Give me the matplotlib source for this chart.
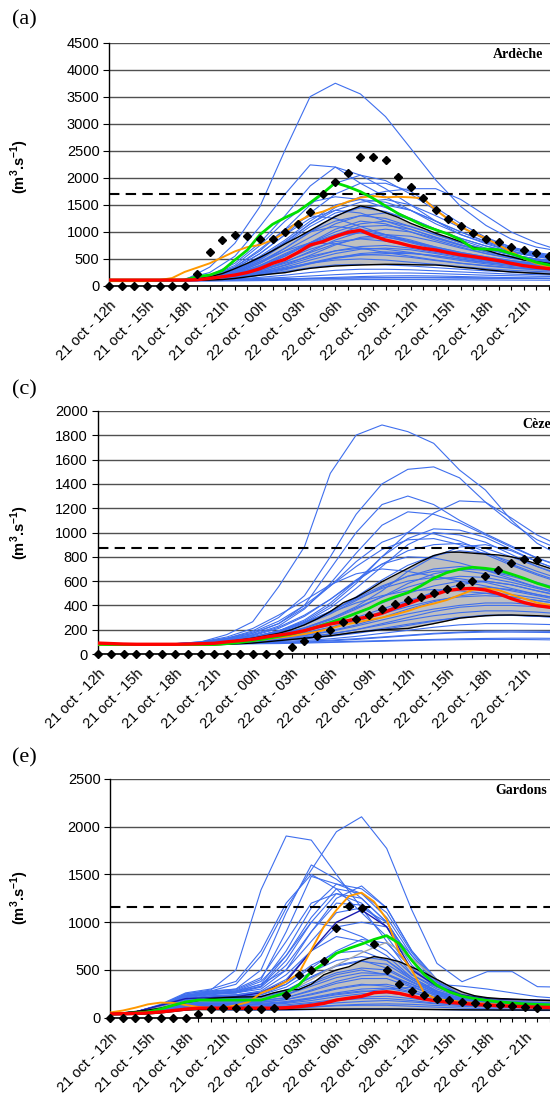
import numpy as np
import matplotlib.pyplot as plt

plt.rcParams['font.family'] = ['Liberation Sans', 'DejaVu Sans']
plt.rcParams['mathtext.fontset'] = 'custom'
plt.rcParams['mathtext.rm'] = 'Liberation Sans'
plt.rcParams['mathtext.bf'] = 'Liberation Sans:bold'

tick_labels = ["21 oct - 12h", "21 oct - 15h", "21 oct - 18h", "21 oct - 21h",
               "22 oct - 00h", "22 oct - 03h", "22 oct - 06h", "22 oct - 09h",
               "22 oct - 12h", "22 oct - 15h", "22 oct - 18h", "22 oct - 21h"]

hours = np.arange(37)          # hourly, from 21 oct 12h
hours2 = np.arange(0, 37, 2)   # ensemble members read every 2 h

# ---------------- (a) Ardèche ----------------
obs_a = [0, 0, 0, 0, 0, 0, 0, 216, 635, 851, 943, 925, 867, 870, 1000, 1153, 1363, 1702,
         1924, 2084, 2387, 2387, 2331, 2008, 1831, 1634, 1400, 1239, 1104, 987, 870, 808,
         715, 672, 604, 561]
red_a = [110, 110, 110, 110, 110, 110, 110, 115, 142, 170, 203, 250, 320, 419, 493, 617, 758,
         820, 913, 993, 1030, 931, 850, 800, 740, 697, 666, 617, 574, 543, 506, 469, 419, 376,
         346, 321, 300]
green_a = [110, 110, 110, 110, 110, 110, 110, 173, 203, 284, 481, 666, 950, 1141, 1264, 1375,
           1541, 1714, 1911, 1837, 1745, 1622, 1480, 1340, 1230, 1120, 1040, 960, 850, 690,
           684, 670, 600, 520, 440, 390, 350]
orange_a = [90, 90, 90, 90, 110, 147, 260, 340, 420, 530, 640, 720, 760, 851, 987, 1190, 1314,
            1375, 1468, 1560, 1634, 1665, 1640, 1650, 1640, 1622, 1406, 1233, 1097, 975, 882,
            758, 635, 512, 419, 358, 320]
upper_a = [110, 110, 110, 110, 110, 110, 110, 130, 170, 230, 320, 420, 530, 650, 780, 900, 1030,
           1160, 1283, 1390, 1480, 1437, 1356, 1270, 1160, 1070, 975, 900, 820, 715, 666, 592,
           540, 481, 450, 419, 400]
lower_a = [100, 100, 100, 100, 100, 100, 100, 105, 110, 120, 140, 170, 200, 225, 247, 290, 327,
           350, 370, 380, 388, 395, 401, 400, 395, 390, 388, 370, 345, 327, 300, 280, 260, 247,
           235, 222, 215]
blues_a = [
    [110, 110, 110, 110, 350, 790, 1470, 2516, 3503, 3750, 3552, 3133, 2547, 1961, 1468, 1120, 870, 720, 640],
    [110, 110, 110, 130, 250, 550, 1100, 1700, 2240, 2200, 1900, 1650, 1400, 1150, 950, 800, 650, 560, 500],
    [110, 110, 110, 120, 200, 420, 800, 1300, 1850, 2200, 2050, 1800, 1500, 1200, 950, 780, 640, 550, 490],
    [110, 110, 110, 120, 180, 350, 650, 1050, 1500, 1900, 2050, 1950, 1700, 1400, 1100, 850, 700, 600, 520],
    [110, 110, 110, 115, 160, 280, 500, 800, 1150, 1450, 1650, 1750, 1800, 1800, 1600, 1300, 1000, 800, 650],
    [110, 110, 110, 115, 170, 330, 600, 950, 1350, 1700, 1900, 1900, 1750, 1450, 1150, 900, 720, 600, 530],
    [110, 110, 110, 115, 160, 300, 550, 850, 1200, 1500, 1600, 1550, 1400, 1200, 1000, 820, 680, 580, 510],
    [110, 110, 110, 112, 150, 250, 450, 700, 1000, 1300, 1450, 1500, 1400, 1200, 1000, 820, 680, 580, 510],
    [110, 110, 110, 115, 170, 320, 600, 950, 1250, 1400, 1350, 1200, 1050, 900, 760, 640, 550, 480, 430],
    [110, 110, 110, 112, 140, 230, 420, 700, 1000, 1200, 1300, 1250, 1100, 950, 800, 680, 580, 500, 450],
    [110, 110, 110, 112, 130, 200, 350, 550, 800, 1000, 1150, 1200, 1100, 950, 800, 680, 580, 500, 450],
    [110, 110, 110, 115, 160, 290, 500, 800, 1000, 1100, 1050, 950, 820, 700, 600, 520, 450, 400, 370],
    [110, 110, 110, 112, 140, 220, 380, 600, 800, 950, 1000, 950, 850, 720, 620, 540, 470, 420, 380],
    [110, 110, 110, 112, 130, 190, 300, 450, 620, 780, 880, 900, 830, 720, 620, 540, 470, 420, 380],
    [110, 110, 110, 115, 150, 260, 450, 650, 800, 780, 700, 620, 550, 480, 420, 380, 340, 310, 290],
    [110, 110, 110, 112, 130, 180, 280, 420, 550, 650, 700, 680, 620, 540, 470, 410, 360, 320, 300],
    [110, 110, 110, 112, 125, 160, 230, 320, 420, 510, 570, 600, 600, 560, 500, 440, 390, 350, 320],
    [110, 110, 110, 112, 125, 160, 240, 330, 420, 480, 500, 480, 440, 400, 360, 320, 290, 270, 250],
    [110, 110, 110, 112, 120, 150, 200, 270, 340, 390, 400, 390, 370, 340, 310, 280, 260, 240, 230],
    [110, 110, 110, 110, 115, 130, 160, 200, 250, 290, 310, 310, 300, 280, 260, 240, 220, 210, 200],
    [100, 100, 100, 100, 100, 105, 110, 120, 130, 140, 150, 155, 160, 160, 155, 150, 145, 140, 135],
    [90, 90, 90, 90, 92, 95, 100, 105, 110, 115, 118, 120, 120, 118, 115, 112, 110, 108, 105],
    [110, 110, 110, 120, 190, 380, 750, 1200, 1550, 1650, 1600, 1450, 1250, 1050, 880, 740, 630, 550, 490],
    [110, 110, 110, 120, 180, 350, 680, 1050, 1300, 1250, 1100, 950, 820, 700, 600, 520, 460, 410, 370],
    [110, 110, 110, 112, 140, 240, 420, 650, 900, 1150, 1300, 1350, 1250, 1050, 850, 700, 580, 500, 450],
    [110, 110, 110, 112, 135, 210, 360, 560, 800, 1050, 1200, 1150, 1000, 850, 720, 600, 520, 460, 420],
    [110, 110, 110, 112, 130, 190, 320, 500, 720, 950, 1100, 1120, 1050, 900, 760, 640, 540, 470, 430],
    [110, 110, 110, 112, 128, 175, 280, 440, 640, 850, 1000, 1050, 1000, 880, 750, 630, 540, 470, 420],
    [110, 110, 110, 112, 125, 165, 250, 390, 570, 760, 900, 950, 920, 820, 700, 600, 510, 450, 400],
    [110, 110, 110, 112, 135, 220, 380, 580, 780, 930, 980, 920, 800, 680, 580, 500, 440, 400, 370],
    [110, 110, 110, 112, 130, 200, 330, 500, 680, 820, 870, 830, 740, 640, 550, 480, 420, 380, 350],
    [110, 110, 110, 112, 125, 170, 260, 380, 520, 650, 730, 750, 700, 620, 540, 470, 420, 380, 350],
    [110, 110, 110, 112, 125, 160, 240, 350, 480, 600, 680, 700, 670, 600, 520, 460, 410, 370, 340],
    [110, 110, 110, 112, 120, 150, 210, 300, 410, 520, 600, 630, 610, 560, 490, 430, 380, 350, 320],
    [110, 110, 110, 112, 122, 155, 220, 320, 430, 530, 580, 570, 530, 470, 420, 370, 330, 300, 280],
    [110, 110, 110, 112, 140, 260, 480, 780, 1100, 1350, 1450, 1380, 1220, 1050, 880, 740, 620, 540, 480],
    [110, 110, 110, 112, 145, 280, 520, 820, 1150, 1400, 1550, 1600, 1500, 1300, 1080, 880, 720, 620, 550],
    [120, 120, 120, 120, 122, 125, 130, 135, 140, 145, 150, 150, 150, 148, 145, 142, 140, 138, 135],
    [105, 105, 105, 105, 108, 112, 120, 130, 145, 160, 175, 185, 190, 185, 175, 165, 155, 150, 145],
    [115, 115, 115, 115, 118, 125, 140, 160, 185, 210, 230, 240, 240, 230, 215, 200, 190, 180, 175],
]

# ---------------- (c) Cèze ----------------
obs_c = [0] * 15 + [55, 110, 148, 198, 260, 285, 321, 367, 411, 444, 472, 505, 535, 568, 601,
                    642, 689, 746, 779, 774]
red_c = [90, 86, 82, 80, 80, 80, 80, 82, 85, 88, 100, 110, 121, 140, 155, 170, 192, 222, 247,
         266, 288, 307, 335, 378, 414, 453, 486, 521, 535, 540, 527, 497, 456, 423, 398, 384, 370]
green_c = [80, 78, 78, 78, 78, 78, 78, 78, 78, 78, 85, 95, 110, 125, 145, 165, 190, 225, 258,
           294, 335, 376, 430, 470, 505, 560, 623, 669, 697, 714, 705, 691, 658, 623, 582, 549, 520]
orange_c = [75, 75, 75, 75, 75, 75, 75, 75, 75, 75, 85, 100, 110, 120, 135, 148, 165, 184, 210,
            239, 260, 280, 300, 325, 354, 390, 415, 444, 485, 527, 540, 527, 489, 456, 422, 403, 385]
upper_c = [88, 85, 85, 85, 85, 85, 85, 85, 85, 85, 100, 115, 130, 150, 170, 200, 240, 290, 350,
           422, 466, 527, 595, 650, 705, 760, 810, 838, 838, 830, 822, 815, 800, 775, 740, 705, 670]
lower_c = [75, 75, 75, 75, 75, 75, 75, 75, 75, 75, 80, 85, 90, 100, 110, 120, 130, 140, 150,
           165, 180, 190, 200, 205, 210, 230, 250, 272, 295, 305, 315, 320, 321, 318, 315, 310, 305]
blues_c = [
    [85, 80, 80, 85, 100, 160, 266, 554, 883, 1487, 1802, 1885, 1830, 1734, 1514, 1350, 1103, 911, 800],
    [85, 80, 80, 82, 95, 130, 190, 300, 480, 800, 1150, 1400, 1520, 1540, 1450, 1250, 1080, 940, 850],
    [85, 80, 80, 82, 95, 125, 170, 250, 400, 700, 1000, 1230, 1300, 1230, 1100, 990, 890, 790, 720],
    [85, 80, 80, 82, 92, 110, 140, 190, 270, 400, 580, 800, 1000, 1160, 1260, 1250, 1120, 980, 880],
    [85, 80, 80, 82, 95, 120, 160, 230, 370, 580, 830, 1060, 1170, 1150, 1080, 980, 880, 790, 710],
    [85, 80, 80, 82, 92, 110, 140, 190, 280, 420, 600, 800, 950, 1030, 1020, 960, 860, 760, 680],
    [85, 80, 80, 82, 92, 110, 135, 180, 260, 380, 540, 720, 900, 1000, 980, 920, 820, 720, 640],
    [85, 80, 80, 82, 90, 105, 125, 160, 215, 290, 390, 520, 680, 800, 880, 900, 850, 760, 680],
    [85, 80, 80, 82, 92, 115, 150, 210, 310, 450, 610, 740, 800, 790, 750, 690, 620, 550, 500],
    [85, 80, 80, 82, 90, 105, 125, 160, 210, 280, 370, 470, 580, 660, 700, 690, 640, 580, 520],
    [85, 80, 80, 85, 100, 140, 210, 320, 440, 570, 660, 700, 680, 640, 600, 560, 520, 480, 440],
    [85, 80, 80, 82, 90, 100, 115, 140, 175, 220, 280, 350, 430, 510, 570, 600, 570, 520, 470],
    [85, 80, 80, 82, 88, 98, 110, 130, 155, 190, 240, 300, 370, 430, 480, 500, 490, 460, 420],
    [85, 80, 80, 82, 88, 95, 105, 120, 140, 165, 200, 250, 300, 350, 385, 400, 400, 390, 370],
    [85, 80, 80, 82, 86, 92, 100, 110, 125, 145, 170, 200, 235, 270, 300, 320, 320, 310, 300],
    [85, 80, 80, 82, 85, 90, 95, 102, 112, 125, 145, 170, 195, 220, 240, 250, 250, 245, 240],
    [85, 80, 80, 80, 82, 85, 88, 92, 98, 108, 120, 135, 150, 165, 175, 180, 180, 178, 175],
    [85, 80, 80, 80, 80, 82, 84, 86, 90, 95, 100, 105, 110, 115, 118, 120, 120, 118, 115],
    [85, 80, 80, 85, 98, 130, 180, 270, 400, 560, 720, 860, 940, 950, 900, 820, 730, 650, 580],
    [85, 80, 80, 82, 90, 108, 130, 170, 240, 340, 470, 610, 730, 810, 850, 830, 760, 680, 610],
    [85, 80, 80, 84, 96, 125, 170, 250, 380, 560, 760, 920, 1000, 990, 930, 840, 740, 660, 590],
    [85, 80, 80, 82, 90, 105, 130, 170, 240, 330, 440, 550, 640, 700, 720, 700, 650, 590, 530],
    [85, 80, 80, 82, 90, 108, 135, 180, 250, 350, 460, 560, 640, 680, 690, 660, 610, 550, 500],
    [85, 80, 80, 82, 90, 104, 125, 160, 215, 290, 380, 470, 550, 610, 640, 630, 590, 540, 490],
    [85, 80, 80, 82, 88, 100, 120, 150, 200, 265, 340, 420, 500, 560, 600, 600, 570, 520, 480],
    [85, 80, 80, 82, 88, 100, 118, 145, 185, 240, 300, 370, 440, 500, 540, 550, 530, 490, 450],
    [85, 80, 80, 82, 88, 98, 112, 135, 170, 215, 270, 330, 390, 440, 470, 480, 470, 440, 410],
    [85, 80, 80, 82, 90, 110, 140, 190, 260, 350, 450, 540, 600, 630, 620, 590, 540, 490, 450],
    [85, 80, 80, 82, 88, 96, 108, 125, 150, 185, 230, 280, 330, 370, 400, 420, 420, 405, 385],
    [85, 80, 80, 82, 86, 94, 104, 118, 138, 165, 200, 240, 280, 315, 340, 355, 355, 345, 330],
    [85, 80, 80, 82, 86, 92, 100, 112, 128, 150, 178, 210, 245, 275, 300, 315, 318, 310, 300],
    [85, 80, 80, 82, 90, 108, 140, 190, 260, 340, 420, 480, 520, 530, 520, 500, 470, 440, 410],
    [85, 80, 80, 82, 92, 115, 155, 220, 320, 450, 600, 740, 850, 900, 910, 870, 800, 720, 650],
    [85, 80, 80, 80, 82, 86, 90, 96, 104, 114, 126, 140, 155, 170, 180, 188, 190, 188, 185],
    [85, 80, 80, 80, 81, 83, 86, 90, 95, 100, 105, 110, 115, 120, 125, 128, 130, 130, 128],
]

# ---------------- (e) Gardons ----------------
obs_e = [0, 0, 0, 0, 0, 0, 0, 39, 88, 102, 102, 91, 91, 98, 234, 444, 499, 597, 942, 1173,
         1152, 772, 499, 349, 279, 234, 199, 182, 164, 157, 133, 130, 126, 112, 102]
red_e = [40, 42, 45, 50, 60, 75, 90, 100, 100, 100, 100, 100, 100, 100, 105, 115, 130, 150, 185,
         205, 223, 262, 272, 255, 225, 195, 175, 160, 150, 140, 130, 125, 120, 115, 110, 108, 105]
green_e = [40, 45, 50, 60, 90, 130, 165, 185, 185, 185, 185, 185, 185, 223, 262, 342, 482, 569,
           674, 726, 771, 820, 859, 778, 600, 450, 340, 270, 225, 200, 180, 165, 155, 145, 140,
           135, 130]
orange_e = [55, 75, 105, 140, 158, 155, 133, 112, 100, 105, 130, 165, 258, 307, 377, 464, 709,
            953, 1128, 1274, 1309, 1215, 1030, 680, 499, 255, 193, 182, 164, 155, 145, 135, 128,
            118, 108, 100, 95]
upper_e = [40, 50, 65, 80, 100, 130, 160, 180, 200, 210, 215, 218, 220, 260, 290, 295, 350, 450,
           500, 534, 600, 640, 620, 587, 530, 470, 400, 330, 270, 230, 210, 200, 195, 190, 185,
           180, 178]
lower_e = [30, 32, 35, 40, 50, 65, 80, 85, 85, 85, 85, 85, 85, 85, 86, 87, 88, 89, 90, 90, 90,
           90, 90, 90, 88, 86, 85, 84, 83, 82, 82, 81, 81, 80, 80, 80, 80]
blues_e = [
    [40, 60, 130, 250, 290, 500, 1340, 1903, 1860, 1500, 1150, 800, 450, 320, 230, 200, 190, 180, 175],
    [40, 60, 130, 250, 280, 350, 650, 1150, 1547, 1948, 2104, 1773, 1128, 569, 377, 482, 482, 325, 320],
    [40, 60, 130, 230, 280, 300, 500, 1100, 1600, 1450, 1250, 1000, 600, 330, 220, 190, 180, 170, 165],
    [40, 60, 130, 230, 270, 290, 400, 900, 1480, 1400, 1300, 1050, 650, 350, 230, 200, 185, 175, 170],
    [40, 60, 130, 230, 260, 280, 350, 700, 1150, 1400, 1350, 1150, 700, 380, 240, 200, 185, 175, 170],
    [40, 60, 130, 220, 250, 270, 330, 600, 1000, 1300, 1250, 1000, 600, 350, 230, 195, 180, 170, 165],
    [40, 60, 130, 220, 250, 260, 300, 500, 900, 1250, 1380, 1150, 700, 400, 250, 200, 185, 175, 170],
    [40, 60, 130, 220, 250, 260, 320, 550, 900, 1200, 1180, 950, 550, 330, 220, 190, 180, 170, 165],
    [40, 60, 130, 210, 240, 260, 330, 650, 1000, 950, 850, 700, 450, 300, 210, 185, 175, 165, 160],
    [40, 60, 120, 200, 230, 240, 270, 400, 700, 950, 1000, 950, 650, 380, 240, 200, 185, 175, 170],
    [40, 60, 120, 200, 230, 240, 280, 450, 700, 850, 800, 650, 420, 280, 200, 180, 170, 160, 155],
    [40, 60, 120, 190, 210, 220, 240, 350, 550, 680, 700, 600, 400, 270, 200, 180, 170, 160, 155],
    [40, 55, 110, 180, 200, 200, 210, 280, 430, 550, 600, 520, 380, 260, 190, 170, 160, 150, 145],
    [40, 55, 110, 170, 180, 180, 190, 240, 350, 450, 500, 450, 330, 230, 180, 160, 150, 145, 140],
    [40, 55, 100, 160, 170, 170, 180, 210, 290, 380, 440, 450, 350, 240, 180, 160, 150, 140, 135],
    [40, 50, 100, 150, 150, 150, 160, 190, 250, 310, 350, 330, 270, 200, 160, 150, 140, 135, 130],
    [40, 50, 90, 140, 140, 130, 140, 160, 200, 250, 280, 270, 220, 180, 150, 140, 130, 125, 120],
    [40, 50, 90, 130, 120, 110, 110, 120, 150, 180, 200, 200, 180, 150, 130, 120, 115, 110, 110],
    [40, 50, 80, 110, 100, 90, 90, 95, 110, 125, 130, 130, 120, 110, 100, 95, 90, 90, 90],
    [35, 45, 70, 95, 85, 80, 80, 80, 85, 90, 95, 95, 90, 85, 80, 80, 78, 75, 75],
    [40, 55, 110, 180, 200, 210, 240, 320, 480, 600, 640, 600, 420, 280, 200, 175, 165, 155, 150],
    [40, 55, 110, 175, 195, 200, 225, 290, 420, 540, 590, 560, 400, 270, 195, 172, 162, 152, 148],
    [40, 55, 105, 165, 185, 190, 210, 260, 370, 470, 520, 500, 370, 255, 190, 170, 160, 150, 145],
    [40, 55, 105, 160, 175, 180, 195, 240, 330, 420, 470, 460, 350, 245, 185, 165, 155, 148, 142],
    [40, 50, 100, 155, 165, 165, 175, 210, 280, 360, 410, 410, 320, 230, 180, 160, 150, 145, 140],
    [40, 50, 100, 150, 155, 155, 165, 190, 240, 300, 340, 350, 290, 215, 170, 155, 145, 140, 135],
    [40, 50, 95, 145, 145, 140, 150, 170, 210, 260, 300, 310, 260, 200, 160, 150, 140, 135, 130],
    [40, 50, 95, 140, 135, 130, 135, 150, 180, 220, 250, 260, 230, 185, 155, 145, 135, 130, 125],
    [40, 50, 90, 130, 125, 120, 125, 135, 160, 190, 215, 225, 200, 170, 145, 135, 130, 125, 120],
    [40, 50, 85, 120, 115, 110, 112, 120, 135, 155, 170, 180, 165, 145, 130, 122, 118, 115, 112],
    [40, 50, 80, 110, 105, 100, 100, 105, 115, 130, 140, 145, 140, 128, 118, 112, 108, 105, 102],
    [40, 60, 130, 240, 270, 300, 420, 800, 1200, 1300, 1200, 950, 600, 350, 230, 195, 180, 170, 165],
    [40, 60, 130, 230, 260, 280, 380, 650, 1050, 1350, 1300, 1100, 680, 370, 240, 200, 185, 175, 170],
    [40, 60, 130, 220, 250, 270, 350, 500, 800, 1100, 1150, 1000, 600, 340, 225, 190, 178, 168, 162],
    [40, 60, 140, 260, 300, 380, 700, 1200, 1500, 1350, 1100, 850, 500, 320, 220, 190, 180, 170, 165],
    [40, 55, 120, 200, 220, 230, 260, 350, 520, 700, 820, 780, 520, 320, 220, 185, 172, 162, 158],
    [40, 50, 90, 130, 130, 130, 140, 160, 200, 240, 270, 300, 320, 350, 330, 300, 260, 220, 200],
]
navy_e = [40, 60, 130, 200, 210, 220, 260, 380, 700, 1000, 1128, 953, 500, 330, 240, 200, 190, 185, 180]
grey_e = [40, 55, 110, 170, 180, 180, 200, 260, 400, 550, 680, 790, 620, 400, 250, 200, 185, 175, 170]

fig = plt.figure(figsize=(5.5, 11.04), dpi=100)
H = 1104.0


def panel(rect, obs, red, green, orange, upper, lower, blues, threshold, ymax, ystep,
          xmax, extra=()):
    ax = fig.add_axes(rect)
    ax.fill_between(hours, lower, upper, color='#c0c0c0', lw=0, zorder=1)
    for b in blues:
        ax.plot(hours2, b, color='#3f6fee', lw=0.8, zorder=2)
    for vals, col in extra:
        ax.plot(hours2, vals, color=col, lw=1.0, zorder=2)
    ax.plot(hours, upper, color='black', lw=1.0, zorder=3)
    ax.plot(hours, lower, color='black', lw=1.0, zorder=3)
    ax.axhline(threshold, color='black', ls=(0, (5, 3)), lw=1.5, zorder=3)
    ax.plot(hours, orange, color='#ff9900', lw=1.4, zorder=4)
    ax.plot(hours, green, color='#00e000', lw=2.0, zorder=4)
    ax.plot(hours, red, color='#ff0000', lw=2.4, zorder=4)
    ax.plot(np.arange(len(obs)), obs, 'D', color='black', ms=4.0, zorder=6, clip_on=False)

    ax.set_xlim(0, xmax)
    ax.set_ylim(0, ymax)
    ax.set_yticks(np.arange(0, ymax + 1, ystep))
    ax.set_xticks(np.arange(0, 36))
    ax.set_xticklabels([tick_labels[i // 3] if i % 3 == 0 else '' for i in range(36)],
                       rotation=45, ha='right', va='top', rotation_mode='anchor',
                       fontsize=10.5)
    ax.tick_params(axis='x', length=3, width=0.8, pad=6)
    ax.tick_params(axis='y', length=4, width=0.8, labelsize=10.5, pad=3)
    ax.yaxis.grid(True, color='#505050', lw=1.0)
    ax.set_axisbelow(True)
    for s in ['top', 'right']:
        ax.spines[s].set_visible(False)
    ax.spines['left'].set_linewidth(1.0)
    ax.spines['bottom'].set_linewidth(1.2)
    return ax


# (a)
panel([109.3 / 550, 1 - 286 / H, 1 - 109.3 / 550, 243.3 / H], obs_a, red_a, green_a, orange_a,
      upper_a, lower_a, blues_a, 1710, 4500, 500, 35.1)
# (c)
panel([97.7 / 550, 1 - 654 / H, 1 - 97.7 / 550, 243 / H], obs_c, red_c, green_c, orange_c,
      upper_c, lower_c, blues_c, 875, 2000, 200, 34.8)
# (e)
panel([110.3 / 550, 1 - 1017.7 / H, 1 - 110.3 / 550, 238.7 / H], obs_e, red_e, green_e,
      orange_e, upper_e, lower_e, blues_e, 1162, 2500, 500, 34.7,
      extra=[(grey_e, '#a8a8a8'), (navy_e, '#1a1ab0')])

serif = ['Liberation Serif', 'DejaVu Serif']
for lab, y in [('(a)', 20), ('(c)', 390), ('(e)', 758)]:
    fig.text(12 / 550, 1 - y / H, lab, family=serif, fontsize=16, va='center', ha='left')
for name, x, y in [('Ardèche', 493, 55), ('Cèze', 522, 425), ('Gardons', 495, 791)]:
    fig.text(x / 550, 1 - y / H, name, family=serif, fontweight='bold', fontsize=10,
             va='center', ha='left')
for y in [167, 533, 898]:
    fig.text(20 / 550, 1 - y / H, r'(m$^{\mathbf{3}}$.s$^{\mathbf{-1}}$)', rotation=90,
             fontweight='bold', fontsize=10.5, va='center', ha='center')

fig.savefig('out.png', dpi=100)
